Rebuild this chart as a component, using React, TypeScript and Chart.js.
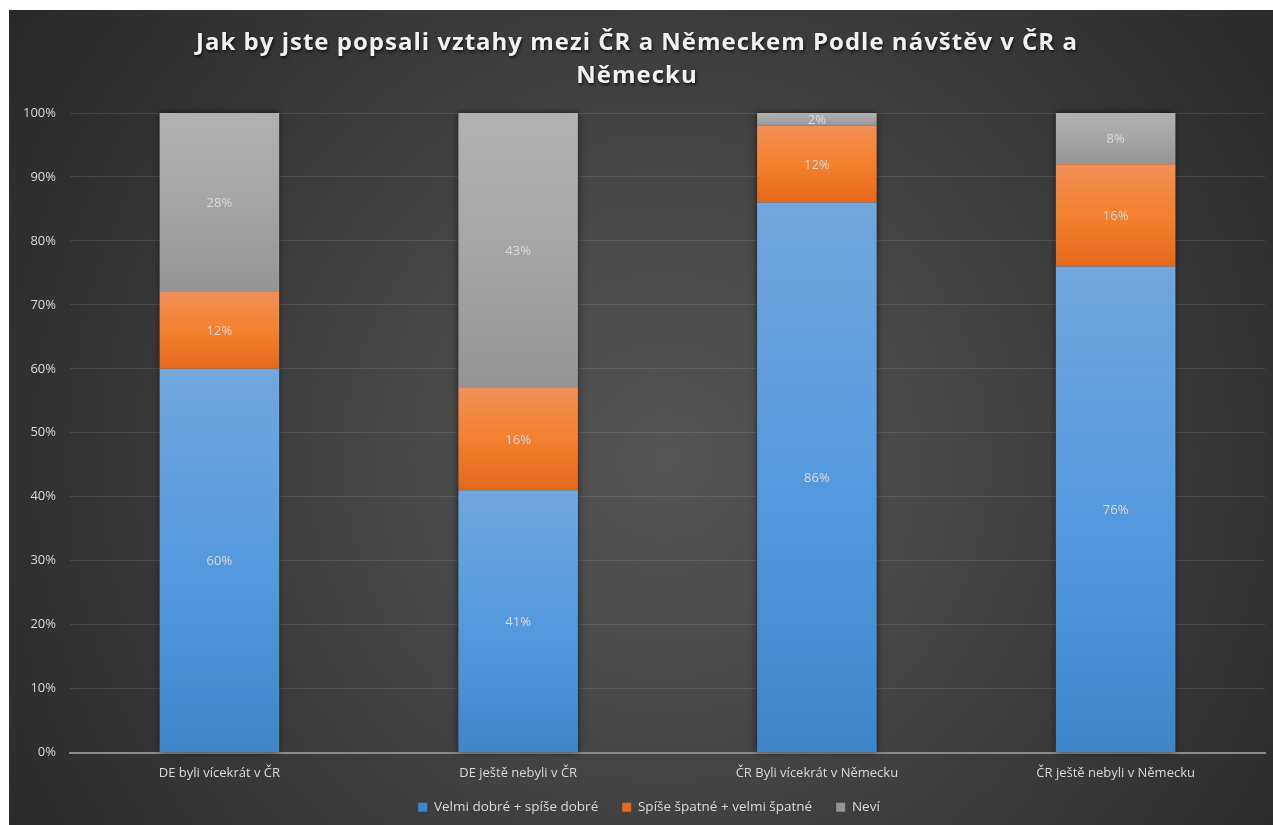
import React, { useEffect, useRef } from "react";
import { Chart, registerables } from "chart.js";

Chart.register(...registerables);

const categories = [
  "DE byli vícekrát v ČR",
  "DE ještě nebyli v ČR",
  "ČR Byli vícekrát v Německu",
  "ČR ještě nebyli v Německu",
];
const seriesNames = ["Velmi dobré + spíše dobré", "Spíše špatné + velmi špatné", "Neví"];
const goodValues = [60, 41, 86, 76];
const badValues = [12, 16, 12, 16];
const unknownValues = [28, 43, 2, 8];
const titleLines = ["Jak by jste popsali vztahy mezi ČR a Německem Podle návštěv v ČR a", "Německu"];

const blueStops = ["#71a7dd", "#559ade", "#3f86c9"];
const orangeStops = ["#f28f57", "#f4812d", "#e4681a"];
const grayStops = ["#b1b1b1", "#a5a5a5", "#959595"];

const FONT = "'Open Sans', 'DejaVu Sans', sans-serif";

function makeBg(stops: string[]) {
  return (ctx: any) => {
    const chart = ctx.chart;
    if (!chart.chartArea || ctx.type !== "data") return stops[1];
    const y = chart.scales.y;
    let start = 0;
    for (let d = 0; d < ctx.datasetIndex; d++) start += chart.data.datasets[d].data[ctx.dataIndex];
    const end = start + chart.data.datasets[ctx.datasetIndex].data[ctx.dataIndex];
    const top = y.getPixelForValue(end);
    const bot = y.getPixelForValue(start);
    if (!isFinite(top) || !isFinite(bot) || top === bot) return stops[1];
    const g = chart.ctx.createLinearGradient(0, top, 0, bot);
    g.addColorStop(0, stops[0]);
    g.addColorStop(0.5, stops[1]);
    g.addColorStop(1, stops[2]);
    return g;
  };
}

const bgPlugin = {
  id: "bgPlugin",
  afterInit(chart: any) {
    const t = chart.titleBlock;
    if (t && !t.__patched) {
      const orig = t.draw.bind(t);
      t.draw = function () {
        const c = chart.ctx;
        c.save();
        try {
          (c as any).letterSpacing = "1px";
        } catch (e) {}
        c.shadowColor = "rgba(0,0,0,0.65)";
        c.shadowOffsetX = 1;
        c.shadowOffsetY = 2;
        c.shadowBlur = 3;
        orig();
        c.restore();
      };
      t.__patched = true;
    }
    const l = chart.legend;
    if (l && !l.__patched) {
      const origL = l.draw.bind(l);
      l.draw = function () {
        const c = chart.ctx;
        c.save();
        c.translate(12, 0);
        origL();
        c.restore();
      };
      l.__patched = true;
    }
  },
  beforeDraw(chart: any) {
    const { ctx, width, height } = chart;
    ctx.save();
    const cx = width * 0.52;
    const cy = height * 0.55;
    const r = Math.sqrt(width * width + height * height) * 0.55;
    const g = ctx.createRadialGradient(cx, cy, 0, cx, cy, r);
    g.addColorStop(0, "#565656");
    g.addColorStop(1, "#262626");
    ctx.fillStyle = g;
    ctx.fillRect(0, 0, width, height);
    ctx.restore();
  },
};

const shadowPlugin = {
  id: "shadowPlugin",
  beforeDatasetsDraw(chart: any) {
    const ctx = chart.ctx;
    const metas = chart.data.datasets.map((_: any, i: number) => chart.getDatasetMeta(i));
    const n = chart.data.labels.length;
    ctx.save();
    ctx.shadowColor = "rgba(0,0,0,0.55)";
    ctx.shadowBlur = 7;
    ctx.fillStyle = "#3a3a3a";
    for (let i = 0; i < n; i++) {
      const first = metas[0].data[i];
      const last = metas[metas.length - 1].data[i];
      if (!first || !last) continue;
      const p0 = first.getProps(["x", "base", "width"], true);
      const p1 = last.getProps(["y"], true);
      ctx.fillRect(p0.x - p0.width / 2, p1.y, p0.width, p0.base - p1.y);
    }
    ctx.restore();
  },
};

const labelPlugin = {
  id: "labelPlugin",
  afterDatasetsDraw(chart: any) {
    const ctx = chart.ctx;
    ctx.save();
    ctx.font = `13px ${FONT}`;
    ctx.fillStyle = "#d9d9d9";
    ctx.textAlign = "center";
    ctx.textBaseline = "middle";
    chart.data.datasets.forEach((ds: any, di: number) => {
      const meta = chart.getDatasetMeta(di);
      meta.data.forEach((el: any, i: number) => {
        const p = el.getProps(["x", "y", "base"], true);
        ctx.fillText(`${ds.data[i]}%`, p.x, (p.y + p.base) / 2 + 1);
      });
    });
    ctx.restore();
  },
};

export default function App() {
  const ref = useRef<HTMLCanvasElement | null>(null);
  useEffect(() => {
    if (!ref.current) return;
    const chart = new Chart(ref.current, {
      type: "bar",
      data: {
        labels: categories,
        datasets: [
          { label: seriesNames[0], data: goodValues, backgroundColor: makeBg(blueStops) as any },
          { label: seriesNames[1], data: badValues, backgroundColor: makeBg(orangeStops) as any },
          { label: seriesNames[2], data: unknownValues, backgroundColor: makeBg(grayStops) as any },
        ],
      },
      options: {
        animation: false,
        responsive: true,
        maintainAspectRatio: false,
        datasets: { bar: { categoryPercentage: 1, barPercentage: 0.4, borderWidth: 0 } },
        layout: { padding: { left: 0, right: 8, top: 0, bottom: 1 } },
        scales: {
          x: {
            stacked: true,
            grid: { display: false, drawTicks: false },
            border: { display: true, color: "#8a8a8a", width: 2 },
            ticks: { color: "#d9d9d9", font: { family: FONT, size: 13 }, padding: 13 },
            afterFit: (s: any) => {
              s.height = 24;
              s._computeLabelArea = () => undefined;
            },
          },
          y: {
            stacked: true,
            min: 0,
            max: 100,
            grid: { color: "rgba(255,255,255,0.1)", drawTicks: false },
            border: { display: false },
            ticks: {
              stepSize: 10,
              color: "#d9d9d9",
              font: { family: FONT, size: 13 },
              padding: 14,
              callback: (v: any) => `${v}%`,
            },
          },
        },
        plugins: {
          title: {
            display: true,
            text: titleLines,
            color: "#f2f2f2",
            font: { family: FONT, size: 24, weight: "bold", lineHeight: 1.375 },
            padding: { top: 17, bottom: 20 },
          },
          legend: {
            position: "bottom",
            labels: {
              color: "#d9d9d9",
              boxWidth: 9,
              boxHeight: 9,
              padding: 24,
              font: { family: FONT, size: 13.5 },
            },
          },
          tooltip: { enabled: false },
        },
      },
      plugins: [bgPlugin, shadowPlugin, labelPlugin],
    });
    return () => chart.destroy();
  }, []);
  return (
    <div style={{ position: "fixed", left: 9, top: 10, width: 1264, height: 815 }}>
      <canvas ref={ref} />
    </div>
  );
}
